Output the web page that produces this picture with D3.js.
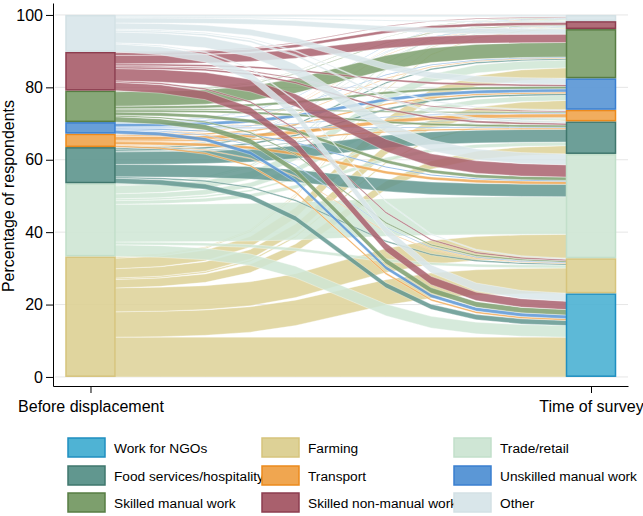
<!DOCTYPE html>
<html>
<head>
<meta charset="utf-8">
<script src="https://cdn.jsdelivr.net/npm/d3@7"></script>
<style>
  body { margin: 0; background: #fff; }
  text { font-family: "Liberation Sans", Arial, Helvetica, sans-serif; fill: #000; }
</style>
</head>
<body>
<svg id="chart" width="643" height="516"></svg>
<script>
// ---------- data ----------
const categories = ["Work for NGOs", "Farming", "Trade/retail", "Food services/hospitality",
  "Transport", "Unskilled manual work", "Skilled manual work", "Skilled non-manual work", "Other"];
const stageLabels = ["Before displacement", "Time of survey"];
const yTickValues = [0, 20, 40, 60, 80, 100];

// share of respondents (%) moving from a category before displacement (row)
// to each category at time of survey (columns, in the order of `categories`)
const fromNGO              = [0, 0, 0, 0, 0, 0, 0, 0, 0];
const fromFarming          = [11.0, 7.0, 6.6, 2.3, 0.4, 2.6, 2.9, 0.3, 0.2];
const fromTrade            = [3.2, 0.8, 10.4, 1.0, 0.5, 1.4, 2.2, 0.3, 0.4];
const fromFood             = [1.4, 0.4, 3.4, 3.5, 0.2, 0.5, 0.4, 0.1, 0.1];
const fromTransport        = [0.5, 0.2, 0.8, 0.4, 1.0, 0.4, 0.2, 0.1, 0.1];
const fromUnskilled        = [1.0, 0.2, 0.3, 0.2, 0.2, 0.9, 0.2, 0.1, 0.1];
const fromSkilledManual    = [1.5, 0.4, 0.9, 0.6, 0.3, 0.7, 4.0, 0.2, 0.1];
const fromSkilledNonManual = [2.3, 0.4, 3.4, 0.5, 0.3, 0.5, 2.3, 0.8, 0.2];
const fromOther            = [2.2, 0.3, 3.0, 0.5, 0.3, 1.7, 1.4, 0.3, 0.5];

const flowRows = [fromNGO, fromFarming, fromTrade, fromFood, fromTransport,
  fromUnskilled, fromSkilledManual, fromSkilledNonManual, fromOther];

const fillColors = ["#4fb3d4", "#ddd196", "#cfe6d5", "#61978f", "#f0a650",
  "#5b97d6", "#7d9f6d", "#a9606d", "#d9e6ea"];
const borderColors = ["#1f8fc0", "#d6c47c", "#c2dfca", "#3f776d", "#ec8a1c",
  "#3a7fd0", "#577d43", "#8c3d4f", "#d3e1e5"];

// ---------- layout ----------
const svg = d3.select("#chart");
const y = d3.scaleLinear().domain([-2.5, 103.3]).range([386, 3]);
const x = d3.scaleLinear().domain([-0.0749, 1.0739]).range([53, 628]);
const nodeW = 49;

// gridlines
svg.append("g").selectAll("line").data(yTickValues).join("line")
  .attr("x1", 55).attr("x2", 628)
  .attr("y1", d => y(d)).attr("y2", d => y(d))
  .attr("stroke", "#e6e6e6").attr("stroke-width", 1);

// node totals
const n = categories.length;
const leftTotals = categories.map((c, i) => d3.sum(flowRows[i]));
const rightTotals = categories.map((c, j) => d3.sum(flowRows, r => r[j]));
const leftStart = [], rightStart = [];
let acc = 0; leftTotals.forEach((v, i) => { leftStart[i] = acc; acc += v; });
acc = 0; rightTotals.forEach((v, j) => { rightStart[j] = acc; acc += v; });

// links
const links = [];
const leftOff = leftStart.slice();
const rightOff = rightStart.slice();
for (let i = 0; i < n; i++) {
  for (let j = 0; j < n; j++) {
    const v = flowRows[i][j];
    if (v <= 0) continue;
    links.push({ s: i, t: j, v, l0: leftOff[i], r0: 0 });
    leftOff[i] += v;
  }
}
// target offsets ordered by source
for (let j = 0; j < n; j++) {
  for (let i = 0; i < n; i++) {
    const L = links.find(k => k.s === i && k.t === j);
    if (!L) continue;
    L.r0 = rightOff[j];
    rightOff[j] += L.v;
  }
}

const xL = x(0) + nodeW / 2, xR = x(1) - nodeW / 2;
const K = 10;
const sig = t => {
  const f = u => 1 / (1 + Math.exp(-K * (u - 0.5)));
  return (f(t) - f(0)) / (f(1) - f(0));
};
const steps = d3.range(0, 11).map(k => k / 10);
function linkPath(L) {
  const top = steps.map(t => [xL + (xR - xL) * t,
    y(L.l0 + L.v) + (y(L.r0 + L.v) - y(L.l0 + L.v)) * sig(t)]);
  const bot = steps.map(t => [xL + (xR - xL) * t,
    y(L.l0) + (y(L.r0) - y(L.l0)) * sig(t)]).reverse();
  return d3.line()(top.concat(bot)) + "Z";
}

svg.append("g").selectAll("path").data(links).join("path")
  .attr("d", linkPath)
  .attr("fill", d => fillColors[d.s])
  .attr("fill-opacity", 0.85)
  .attr("stroke", "#fff").attr("stroke-width", 0.5).attr("stroke-opacity", 0.7);

// nodes
const nodes = [];
categories.forEach((c, i) => {
  if (leftTotals[i] > 0) nodes.push({ c: i, stage: 0, y0: leftStart[i], v: leftTotals[i] });
});
categories.forEach((c, j) => {
  if (rightTotals[j] > 0) nodes.push({ c: j, stage: 1, y0: rightStart[j], v: rightTotals[j] });
});
svg.append("g").selectAll("rect").data(nodes).join("rect")
  .attr("x", d => x(d.stage) - nodeW / 2)
  .attr("width", nodeW)
  .attr("y", d => y(d.y0 + d.v) + 0.75)
  .attr("height", d => Math.max(0, y(d.y0) - y(d.y0 + d.v) - 1.5))
  .attr("fill", d => fillColors[d.c]).attr("fill-opacity", 0.92)
  .attr("stroke", d => borderColors[d.c]).attr("stroke-width", 1.5);

// axes
const yAxis = d3.axisLeft(y).tickValues(yTickValues).tickSize(7).tickSizeOuter(0).tickPadding(3);
const gy = svg.append("g").attr("transform", "translate(53,0)").call(yAxis);
gy.selectAll("text").style("font-size", "16px").attr("fill", "#000");
gy.selectAll("line,path").attr("stroke", "#000");

const xAxis = d3.axisBottom(x).tickValues([0, 1]).tickFormat(i => stageLabels[i])
  .tickSize(7).tickSizeOuter(0).tickPadding(8);
const gx = svg.append("g").attr("transform", "translate(0,386)").call(xAxis);
gx.selectAll("text").style("font-size", "16px").attr("fill", "#000");
gx.selectAll("line,path").attr("stroke", "#000");

svg.append("text")
  .attr("transform", "translate(14,196) rotate(-90)")
  .attr("text-anchor", "middle")
  .style("font-size", "16px")
  .text("Percentage of respondents");

// legend
const colX = [68, 262, 454];
const rowY = [438, 466, 493];
const lg = svg.append("g").selectAll("g").data(categories).join("g")
  .attr("transform", (d, i) => `translate(${colX[i % 3]},${rowY[Math.floor(i / 3)]})`);
lg.append("rect").attr("width", 37).attr("height", 19)
  .attr("fill", (d, i) => fillColors[i])
  .attr("stroke", (d, i) => borderColors[i]).attr("stroke-width", 1.5);
lg.append("text").attr("x", 46).attr("y", 15)
  .style("font-size", "13.7px").text(d => d);
</script>
</body>
</html>
